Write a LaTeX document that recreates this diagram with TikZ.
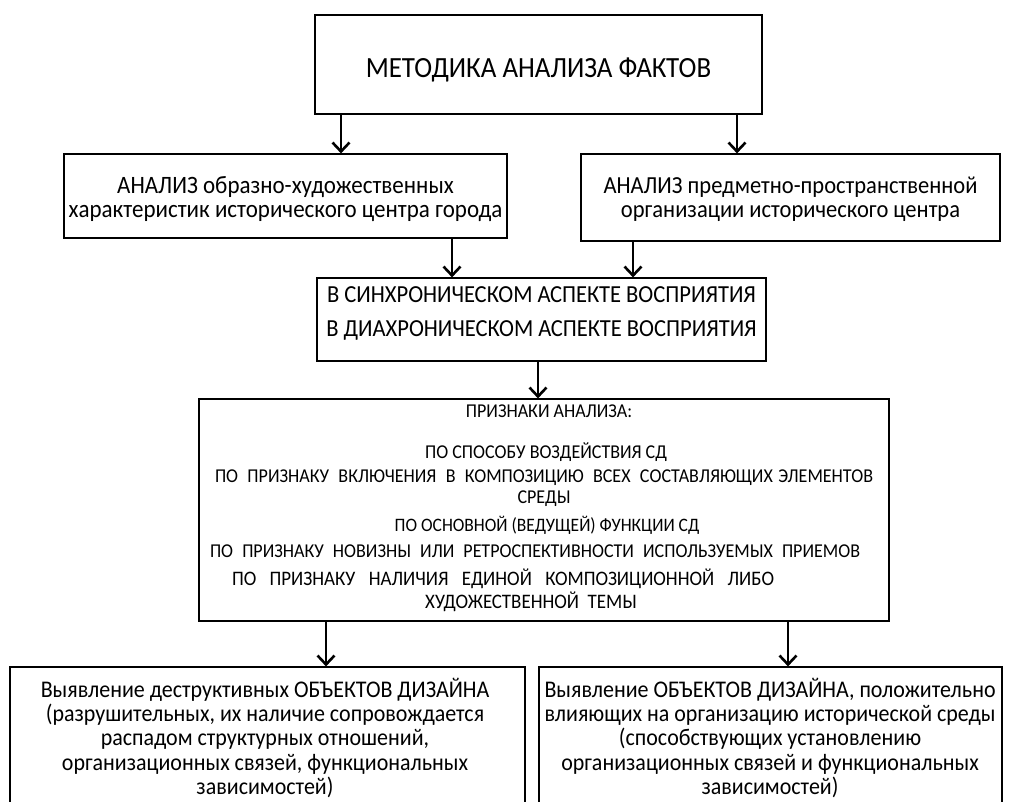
\documentclass[tikz,border=0pt]{standalone}
\usepackage{fontspec}
\setmainfont{Carlito}[FakeStretch=0.92]
\usetikzlibrary{arrows.meta}
\begin{document}
\begin{tikzpicture}[x=1pt,y=-1pt,
  box/.style={draw,line width=1.2pt,inner sep=0pt},
  arr/.style={line width=2.8pt,-{Straight Barb[length=9pt,width=17pt,line width=2.6pt]}},
  txt/.style={inner sep=0pt,anchor=center,align=center}]
\clip (0,0) rectangle (1028,801);
% boxes
\node[box,minimum width=447pt,minimum height=99pt] (top) at (538.5,64.5) {};
\node[box,minimum width=443pt,minimum height=84pt] (l2) at (285.5,196) {};
\node[box,minimum width=419pt,minimum height=87pt] (r2) at (790.5,197.5) {};
\node[box,minimum width=449pt,minimum height=83pt] (mid) at (541.5,319.5) {};
\node[box,minimum width=690pt,minimum height=222pt] (big) at (544,510) {};
\node[box,minimum width=515pt,minimum height=170pt] (bl) at (267.5,752) {};
\node[box,minimum width=463pt,minimum height=170pt] (br) at (770.5,752) {};
% texts
\node[txt,font=\fontsize{29.3}{32}\selectfont] (ttop) at (538.5,70) {МЕТОДИКА АНАЛИЗА ФАКТОВ};
\node[txt,font=\fontsize{25}{24}\selectfont] (tl2) at (285.5,199) {АНАЛИЗ образно-художественных\\характеристик исторического центра города};
\node[txt,font=\fontsize{24.5}{24}\selectfont] (tr2) at (790.5,199) {АНАЛИЗ предметно-пространственной\\организации исторического центра};
\node[txt,font=\fontsize{24.5}{34}\selectfont] (tmid) at (541.5,313) {В СИНХРОНИЧЕСКОМ АСПЕКТЕ ВОСПРИЯТИЯ\\В ДИАХРОНИЧЕСКОМ АСПЕКТЕ ВОСПРИЯТИЯ};
\node[txt,font=\fontsize{19.6}{22}\selectfont] (b1) at (549,411) {ПРИЗНАКИ АНАЛИЗА:};
\node[txt,font=\fontsize{19.6}{22}\selectfont] (b2) at (546,452) {ПО СПОСОБУ ВОЗДЕЙСТВИЯ СД};
\node[txt,font=\fontsize{19.6}{21}\selectfont] (b3) at (544,488.5) {\makebox[658pt][s]{ПО ПРИЗНАКУ ВКЛЮЧЕНИЯ В КОМПОЗИЦИЮ ВСЕХ СОСТАВЛЯЮЩИХ\hspace{-4pt} ЭЛЕМЕНТОВ}\\СРЕДЫ};
\node[txt,font=\fontsize{19}{22}\selectfont] (b4) at (547,525) {ПО ОСНОВНОЙ (ВЕДУЩЕЙ) ФУНКЦИИ СД};
\node[txt,font=\fontsize{19.6}{22}\selectfont] (b5) at (535,551) {\makebox[650pt][s]{ПО ПРИЗНАКУ НОВИЗНЫ ИЛИ РЕТРОСПЕКТИВНОСТИ ИСПОЛЬЗУЕМЫХ ПРИЕМОВ}};
\node[txt,font=\fontsize{20.6}{23}\selectfont] (b6) at (503,590) {\makebox[542pt][s]{ПО ПРИЗНАКУ НАЛИЧИЯ ЕДИНОЙ КОМПОЗИЦИОННОЙ ЛИБО}\\\hspace*{56pt}ХУДОЖЕСТВЕННОЙ~~ТЕМЫ};
\node[txt,font=\fontsize{23.9}{24.3}\selectfont] (tbl) at (265,738) {Выявление деструктивных ОБЪЕКТОВ ДИЗАЙНА\\(разрушительных, их наличие сопровождается\\распадом структурных отношений,\\организационных связей, функциональных\\зависимостей)};
\node[txt,font=\fontsize{23.9}{24.3}\selectfont] (tbr) at (770,738) {Выявление ОБЪЕКТОВ ДИЗАЙНА, положительно\\влияющих на организацию исторической среды\\(способствующих установлению\\организационных связей и функциональных\\зависимостей)};
% arrows
\coordinate (a1) at (341,0);
\coordinate (a2) at (737,0);
\coordinate (a3) at (452,0);
\coordinate (a4) at (633,0);
\coordinate (a5) at (538,0);
\coordinate (a6) at (326,0);
\coordinate (a7) at (788,0);
\draw[arr] (top.south -| a1) -- (l2.north -| a1);
\draw[arr] (top.south -| a2) -- (r2.north -| a2);
\draw[arr] (l2.south -| a3) -- (mid.north -| a3);
\draw[arr] (r2.south -| a4) -- (mid.north -| a4);
\draw[arr] (mid.south -| a5) -- (big.north -| a5);
\draw[arr] (big.south -| a6) -- (bl.north -| a6);
\draw[arr] (big.south -| a7) -- (br.north -| a7);
\end{tikzpicture}
\end{document}
